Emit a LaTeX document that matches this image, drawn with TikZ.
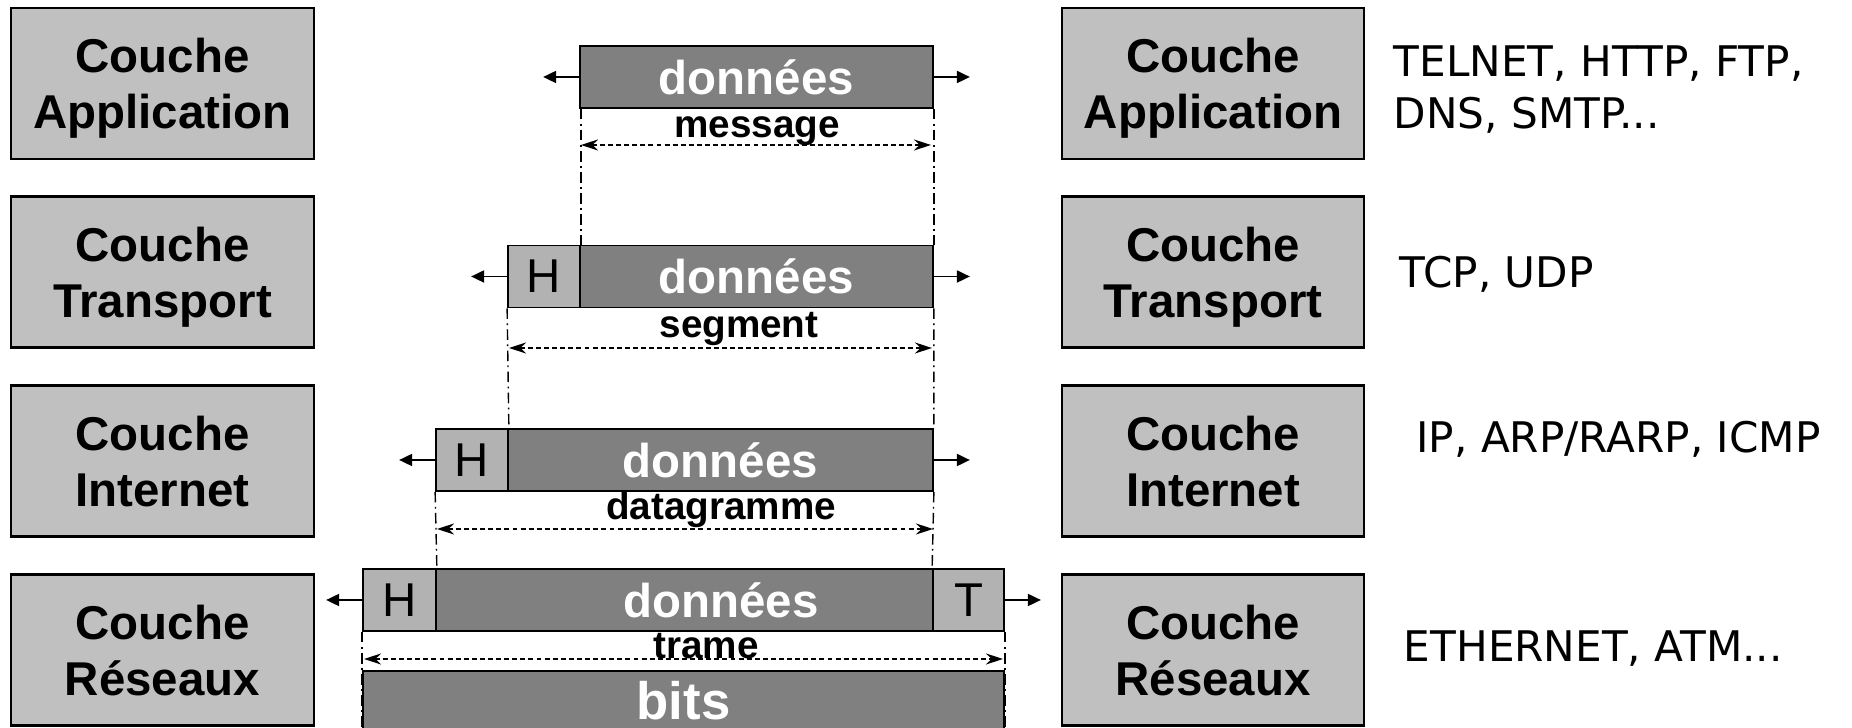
\documentclass[tikz,border=0pt]{standalone}
\usepackage{fontspec}
\setmainfont{Liberation Sans}
\newfontfamily\protofont{DejaVu Sans}
\usetikzlibrary{arrows.meta,positioning}
\definecolor{couchegray}{RGB}{192,192,192}
\definecolor{datagray}{RGB}{128,128,128}
\definecolor{entetegray}{RGB}{178,178,178}

\begin{document}
\begin{tikzpicture}[couche/.style={draw,line width=1.2pt,fill=couchegray,minimum width=6.05cm,minimum height=3.02cm,align=center,inner sep=0pt,text depth=0pt,font=\fontsize{27}{32}\selectfont\bfseries},
    bloc/.style={draw,line width=1pt,fill=datagray,minimum height=1.24cm,inner sep=0pt,text=white,font=\fontsize{27}{31}\selectfont\bfseries},
    entete/.style={draw,line width=1pt,fill=entetegray,minimum height=1.24cm,inner sep=0pt,font=\fontsize{27}{31}\selectfont},
    nom/.style={font=\fontsize{22}{26}\selectfont\bfseries,inner sep=0pt,anchor=base},
    proto/.style={font=\protofont\fontsize{24}{29}\selectfont,inner sep=0pt,anchor=base west},
    arr/.style={draw,line width=1.1pt,-{Triangle[length=0.26cm,width=0.24cm]}},
    cote/.style={draw,line width=0.8pt,dash pattern=on 2.8pt off 1.8pt,{Stealth[length=0.34cm,width=0.22cm]}-{Stealth[length=0.34cm,width=0.22cm]}},
    repere/.style={draw,line width=0.8pt,dash pattern=on 6pt off 2.5pt on 1pt off 2.5pt}]
    \useasboundingbox (0,0) rectangle (37.04,14.56);

    \node[couche] (appg) at (3.25,12.89) {Couche\\Application};
    \node[couche] (transg) at (3.25,9.12) {Couche\\Transport};
    \node[couche] (intg) at (3.25,5.34) {Couche\\Internet};
    \node[couche] (resg) at (3.25,1.56) {Couche\\Réseaux};
    \node[couche] (appd) at (24.26,12.89) {Couche\\Application};
    \node[couche] (transd) at (24.26,9.12) {Couche\\Transport};
    \node[couche] (intd) at (24.26,5.34) {Couche\\Internet};
    \node[couche] (resd) at (24.26,1.56) {Couche\\Réseaux};

    \node[proto] (papp) at (27.87,13.03) {TELNET, HTTP, FTP,};
    \node[proto] (papp2) at (27.87,11.98) {DNS, SMTP...};
    \node[proto] (ptrans) at (27.99,8.80) {TCP, UDP};
    \node[proto] (pint) at (28.32,5.51) {IP, ARP/RARP, ICMP};
    \node[proto] (pres) at (28.07,1.33) {ETHERNET, ATM...};

    \node[bloc,minimum width=7.06cm] (d1) at (15.13,13.02) {données};

    \node[entete,minimum width=1.44cm] (h2) at (10.88,9.03) {H};
    \node[bloc,minimum width=7.06cm] (d2) at (15.13,9.03) {données};

    \node[entete,minimum width=1.44cm] (h3) at (9.44,5.36) {H};
    \node[bloc,minimum width=8.50cm] (d3) at (14.41,5.36) {données};

    \node[entete,minimum width=1.46cm] (h4) at (7.99,2.56) {H};
    \node[bloc,minimum width=9.94cm] (d4) at (13.69,2.56) {\hspace{1.46cm}données};
    \node[entete,minimum width=1.42cm] (t4) at (19.37,2.56) {T};

    \node[bloc,minimum width=12.82cm,minimum height=1.2cm,font=\fontsize{30}{34}\selectfont\bfseries] (bits) at (13.67,0.54) {bits};

    \coordinate[left=0.72cm of d1] (g1);
    \coordinate[right=0.72cm of d1] (r1);
    \coordinate[left=0.72cm of h2] (g2);
    \coordinate[right=0.72cm of d2] (r2);
    \coordinate[left=0.72cm of h3] (g3);
    \coordinate[right=0.72cm of d3] (r3);
    \coordinate[left=0.72cm of h4] (g4);
    \coordinate[right=0.72cm of t4] (r4);
    \draw[arr] (d1) -- (g1);
    \draw[arr] (d1) -- (r1);
    \draw[arr] (h2) -- (g2);
    \draw[arr] (d2) -- (r2);
    \draw[arr] (h3) -- (g3);
    \draw[arr] (d3) -- (r3);
    \draw[arr] (h4) -- (g4);
    \draw[arr] (t4) -- (r4);

    \draw[repere] (h2.north east |- d1.south) -- (h2.north east);
    \draw[repere] (d1.south east) -- (d2.north east);
    \draw[repere] (h2.south west) -- (h3.north east);
    \draw[repere] (d2.south east) -- (d3.north east);
    \draw[repere] (h3.south west) -- (h4.north east);
    \draw[repere] (d3.south east) -- (t4.north west);
    \draw[repere] (h4.south west) -- (h4.south west |- bits.south);
    \draw[repere] (t4.south east) -- (t4.south east |- bits.south);

    \coordinate (m1a) at (11.62,11.66);
    \coordinate (m1b) at (18.62,11.66);
    \coordinate (m2a) at (10.18,7.60);
    \coordinate (m2b) at (18.64,7.60);
    \coordinate (m3a) at (8.74,3.98);
    \coordinate (m3b) at (18.66,3.98);
    \coordinate (m4a) at (7.28,1.38);
    \coordinate (m4b) at (20.06,1.38);
    \draw[cote] (m1a) -- (m1b);
    \draw[cote] (m2a) -- (m2b);
    \draw[cote] (m3a) -- (m3b);
    \draw[cote] (m4a) -- (m4b);

    \node[nom] (lmsg) at (15.14,11.80) {message};
    \node[nom] (lseg) at (14.78,7.80) {segment};
    \node[nom] (ldat) at (14.42,4.16) {datagramme};
    \node[nom] (ltra) at (14.12,1.38) {trame};
\end{tikzpicture}
\end{document}
